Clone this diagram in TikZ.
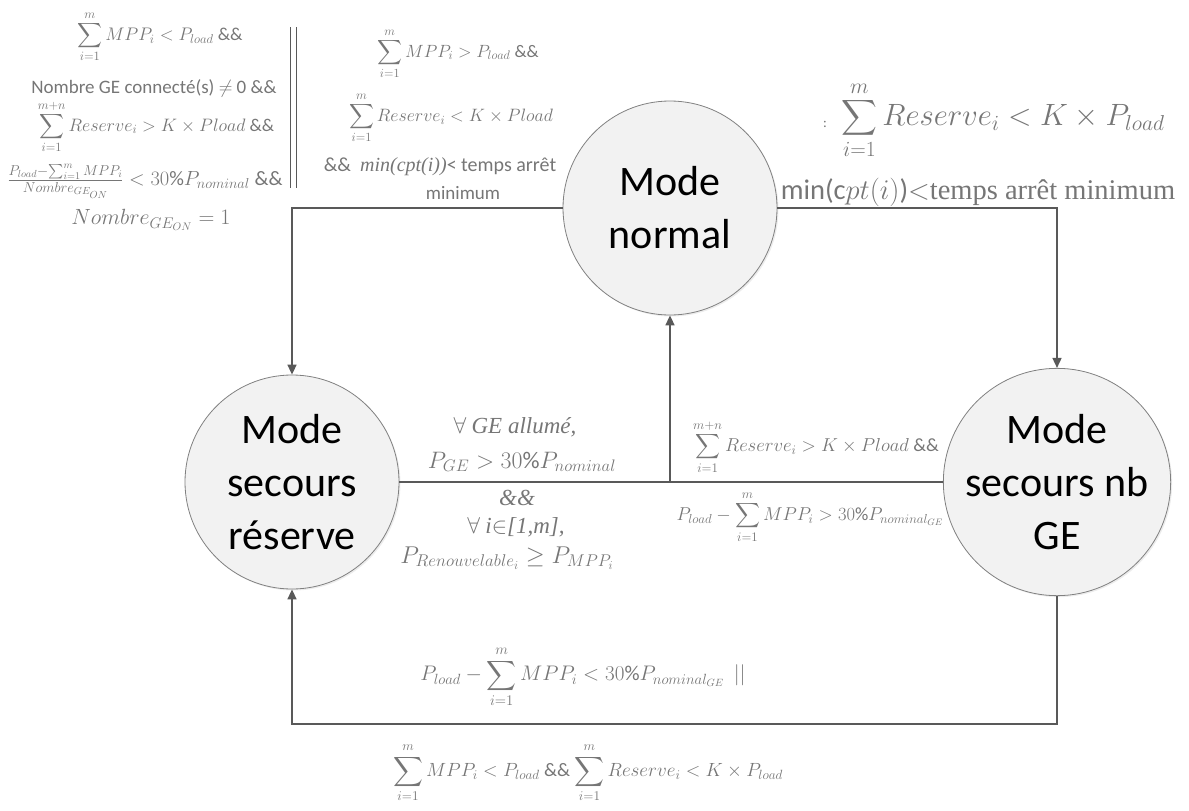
\documentclass[tikz,border=0pt]{standalone}
\usepackage{fix-cm}
\usepackage{exscale}
\usepackage{fontspec}
\setmainfont{Carlito}
\newfontfamily\serifit{Liberation Serif}
\usetikzlibrary{arrows.meta,shadows}
\definecolor{lblgray}{HTML}{767676}
\definecolor{linegray}{HTML}{595959}
\definecolor{circgray}{HTML}{808080}
\definecolor{circfill}{HTML}{F2F2F2}
\newcommand{\fs}[1]{\fontsize{#1}{#1}\selectfont}
\begin{document}
\begin{tikzpicture}[x=1pt,y=-1pt,
  state/.style={circle, draw=circgray, line width=0.8pt, fill=circfill, minimum size=214pt, inner sep=0pt, align=center, font=\fontsize{42}{53}\selectfont, text=black, drop shadow={opacity=0.15, shadow xshift=1.5pt, shadow yshift=-1.5pt}},
  conn/.style={draw=linegray, line width=1.6pt},
  arr/.style={conn, -{Triangle[length=10pt,width=9pt]}},
  lbl/.style={text=lblgray, inner sep=0pt, align=center},
]
\useasboundingbox (0,0) rectangle (1189,811);

% states
\node[state] (normal) at (670,208) {Mode\\normal};
\node[state] (reserve) at (292,482) {Mode\\secours\\réserve};
\node[state] (nbge) at (1057,482) {Mode\\secours nb\\GE};

% connectors
\draw[arr] (normal.west) -| (reserve.north);
\draw[arr] (normal.east) -| (nbge.north);
\draw[conn] (reserve.east) -- (nbge.west);
\coordinate (j) at (670,482);
\draw[arr] (j) -- (normal.south);
\coordinate (bc) at (1057,724);
\coordinate (bl) at (292,724);
\draw[arr] (nbge.south) -- (bc) -- (bl) -- (reserve.south);

% double bar
\draw[linegray, line width=1pt] (290,27) -- (290,188);
\draw[linegray, line width=1pt] (296,27) -- (296,188);

% top-left block
\node[lbl, font=\fs{18.2}] (tl1) at (160,37) {$\displaystyle\sum_{i=1}^{m} MPP_i < P_{load}$ \&\&};
\node[lbl, font=\fs{19}] (tl2) at (154,88) {Nombre GE connecté(s) $\neq$ 0 \&\&};
\node[lbl, font=\fs{18}] (tl3) at (156,127) {$\displaystyle\sum_{i=1}^{m+n} Reserve_i > K \times Pload$ \&\&};
\node[lbl, font=\fs{20.5}] (tl4) at (145,181) {$\frac{P_{load}-\sum_{i=1}^{m} MPP_i}{Nombre_{GE_{ON}}} < 30\%P_{nominal}$ \&\&};
\node[lbl, font=\fs{22}] (tl5) at (151,220) {$Nombre_{GE_{ON}} = 1$};

% top-middle block
\node[lbl, font=\fs{17.7}] (tm1) at (458,54) {$\displaystyle\sum_{i=1}^{m} MPP_i > P_{load}$ \&\&};
\node[lbl, font=\fs{17.9}] (tm2) at (451,118) {$\displaystyle\sum_{i=1}^{m} Reserve_i < K \times Pload$};
\node[lbl, font=\fs{20}] (tm3) at (440,167) {\&\&\ \ {\serifit\itshape min(cpt(i))}< temps arrêt};
\node[lbl, font=\fs{19}] (tm4) at (463,193) {minimum};

% top-right block
\node[lbl, font=\fs{14}] (tr0) at (825,124) {:};
\node[lbl, font=\fs{30.8}] (tr1) at (1003,120) {$\displaystyle\sum_{i=1}^{m} Reserve_i < K \times P_{load}$};
\node[lbl, font=\fs{28.5}] (tr2) at (978,192) {min(c$pt(i)$)$<${\serifit temps arrêt minimum}};

% middle-left block
\node[lbl, font=\fs{23}] (ml1) at (515,427) {$\forall$ {\serifit\itshape GE allumé,}};
\node[lbl, font=\fs{23.8}] (ml2) at (522,462) {$P_{GE} > 30\%P_{nominal}$};
\node[lbl, font=\fs{23}] (ml3) at (517,498) {{\serifit\itshape \&\&}};
\node[lbl, font=\fs{23}] (ml4) at (516,527) {$\forall$ {\serifit\itshape i}$\in${\serifit\itshape [1,m],}};
\node[lbl, font=\fs{24.3}] (ml5) at (507,558) {$P_{Renouvelable_i} \geq P_{MPP_i}$};

% middle-right block
\node[lbl, font=\fs{18.7}] (mr1) at (816,447) {$\displaystyle\sum_{i=1}^{m+n} Reserve_i > K \times Pload$ \&\&};
\node[lbl, font=\fs{18.6}] (mr2) at (810,517) {$\displaystyle P_{load}-\sum_{i=1}^{m} MPP_i > 30\%P_{nominal_{GE}}$};

% bottom block
\node[lbl, font=\fs{21.1}] (b1) at (583,677) {$\displaystyle P_{load}-\sum_{i=1}^{m} MPP_i < 30\%P_{nominal_{GE}}\ \ ||$};
\node[lbl, font=\fs{19.1}] (b2) at (588,773) {$\displaystyle\sum_{i=1}^{m} MPP_i < P_{load}$ \&\& $\displaystyle\sum_{i=1}^{m} Reserve_i < K \times P_{load}$};
\end{tikzpicture}
\end{document}
